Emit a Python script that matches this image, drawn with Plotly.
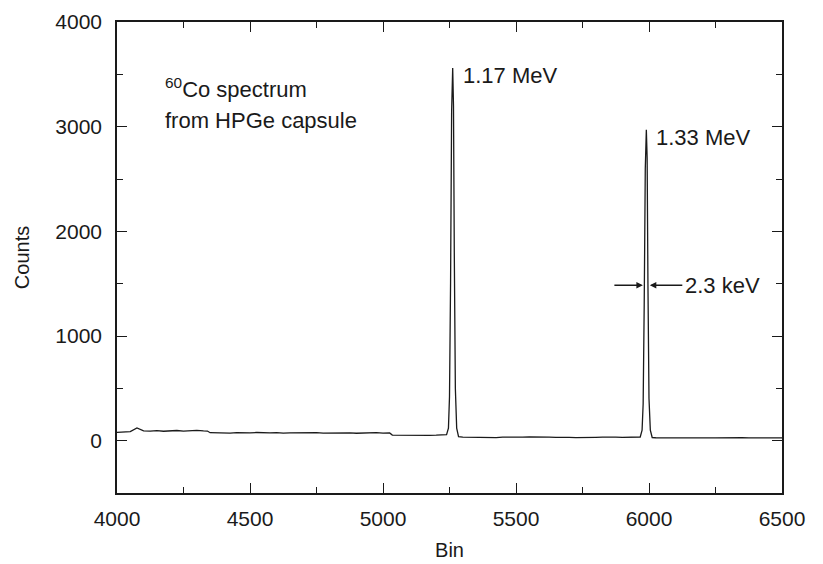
import plotly.graph_objects as go

# ---- data ----
bins_low = [4000, 4025, 4050, 4075, 4100, 4125, 4150, 4175, 4200, 4225, 4250, 4275, 4300, 4325,
            4340, 4350, 4375, 4400, 4425, 4450, 4475, 4500, 4525, 4550, 4575, 4600, 4625, 4650,
            4675, 4700, 4725, 4750, 4775, 4800, 4825, 4850, 4875, 4900, 4925, 4950, 4975, 5000,
            5025, 5035, 5050, 5075, 5100, 5125, 5150, 5175, 5200, 5225]
counts_low = [80, 84, 86, 122, 94, 92, 95, 90, 94, 97, 92, 96, 99, 93,
              92, 76, 74, 77, 73, 76, 72, 75, 78, 73, 74, 77, 72, 75,
              76, 71, 74, 77, 73, 75, 72, 76, 74, 71, 75, 73, 76, 72,
              74, 53, 52, 50, 48, 51, 49, 50, 52, 53]

bins_peak1 = [5239, 5246, 5250, 5254, 5258, 5262, 5265, 5268, 5272, 5277, 5284]
counts_peak1 = [58, 120, 420, 1500, 3150, 3560, 3200, 1800, 500, 120, 38]

bins_mid = [5300, 5325, 5350, 5375, 5400, 5425, 5450, 5475, 5500, 5525, 5550, 5575, 5600,
            5625, 5650, 5675, 5700, 5725, 5750, 5775, 5800, 5825, 5850, 5875, 5900, 5925,
            5950, 5967]
counts_mid = [34, 32, 35, 31, 33, 30, 34, 32, 31, 33, 35, 32, 30,
              33, 31, 34, 32, 30, 33, 31, 32, 34, 30, 33, 31, 32,
              33, 35]

bins_peak2 = [5974, 5978, 5982, 5986, 5990, 5993, 5996, 6000, 6005, 6012]
counts_peak2 = [100, 350, 1300, 2600, 2970, 2700, 1500, 400, 100, 30]

bins_high = [6025, 6050, 6075, 6100, 6125, 6150, 6175, 6200, 6225, 6250, 6275, 6300, 6325,
             6350, 6375, 6400, 6425, 6450, 6475, 6500]
counts_high = [28, 27, 29, 26, 28, 27, 25, 28, 26, 27, 29, 26, 27,
               28, 26, 27, 25, 28, 26, 27]

peak_labels = ["1.17 MeV", "1.33 MeV"]
peak_centers = [5262, 5990]
peak_heights = [3560, 2970]
fwhm_label = "2.3 keV"
fwhm_bins = [5977, 6003]   # half-maximum edges of the 1.33 MeV peak

x_ticks = [4000, 4500, 5000, 5500, 6000, 6500]
y_ticks = [0, 1000, 2000, 3000, 4000]

bins = bins_low + bins_peak1 + bins_mid + bins_peak2 + bins_high
counts = counts_low + counts_peak1 + counts_mid + counts_peak2 + counts_high

FONT = "Liberation Sans, Arial, sans-serif"
INK = "#1a1a1a"

fig = go.Figure()
fig.add_trace(go.Scatter(x=bins, y=counts, mode="lines",
                         line=dict(color=INK, width=1.3), showlegend=False))

axis_common = dict(
    showline=True, linecolor=INK, linewidth=1.5, mirror="ticks",
    ticks="inside", ticklen=10, tickwidth=1.3, tickcolor=INK,
    showgrid=False, zeroline=False,
    tickfont=dict(family=FONT, size=21, color=INK),
)

fig.update_xaxes(range=[4000, 6500], tickvals=x_ticks, ticklabelstandoff=6,
                 minor=dict(ticks="inside", dtick=250, tick0=4000, ticklen=6,
                            tickwidth=1.2, tickcolor=INK),
                 title=dict(text="Bin", font=dict(family=FONT, size=20, color=INK), standoff=14),
                 **axis_common)
fig.update_yaxes(range=[-500, 4000], tickvals=y_ticks, ticklabelstandoff=9,
                 minor=dict(ticks="inside", dtick=500, tick0=0, ticklen=6,
                            tickwidth=1.2, tickcolor=INK),
                 title=dict(text="Counts", font=dict(family=FONT, size=20, color=INK), standoff=20),
                 **axis_common)

ann_font = dict(family=FONT, size=22, color=INK)
annotations = [
    dict(x=4172, y=3370, xref="x", yref="y", text="<sup>60</sup>Co spectrum",
         showarrow=False, xanchor="left", yanchor="middle", font=ann_font),
    dict(x=4172, y=3060, xref="x", yref="y", text="from HPGe capsule",
         showarrow=False, xanchor="left", yanchor="middle", font=ann_font),
]
for lbl, c, h in zip(peak_labels, peak_centers, peak_heights):
    annotations.append(dict(x=c, y=h, xref="x", yref="y", text=lbl, showarrow=False,
                            xanchor="left", yanchor="top", xshift=8, yshift=7, font=ann_font))
half = peak_heights[1] / 2
annotations += [
    dict(x=fwhm_bins[0], y=half, xref="x", yref="y", text="", showarrow=True,
         ax=-30, ay=0, axref="pixel", ayref="pixel", arrowhead=2, arrowsize=1,
         arrowwidth=1.3, arrowcolor=INK),
    dict(x=fwhm_bins[1], y=half, xref="x", yref="y", text="", showarrow=True,
         ax=34, ay=0, axref="pixel", ayref="pixel", arrowhead=2, arrowsize=1,
         arrowwidth=1.3, arrowcolor=INK),
    dict(x=fwhm_bins[1], y=half, xref="x", yref="y", text=fwhm_label, showarrow=False,
         xanchor="left", yanchor="middle", xshift=33, font=ann_font),
]
fig.update_layout(
    width=823, height=564,
    margin=dict(l=117, r=41, t=22, b=71, autoexpand=False),
    paper_bgcolor="white", plot_bgcolor="white",
    annotations=annotations,
    font=dict(family=FONT, color=INK),
)

fig.write_html("out.html")
